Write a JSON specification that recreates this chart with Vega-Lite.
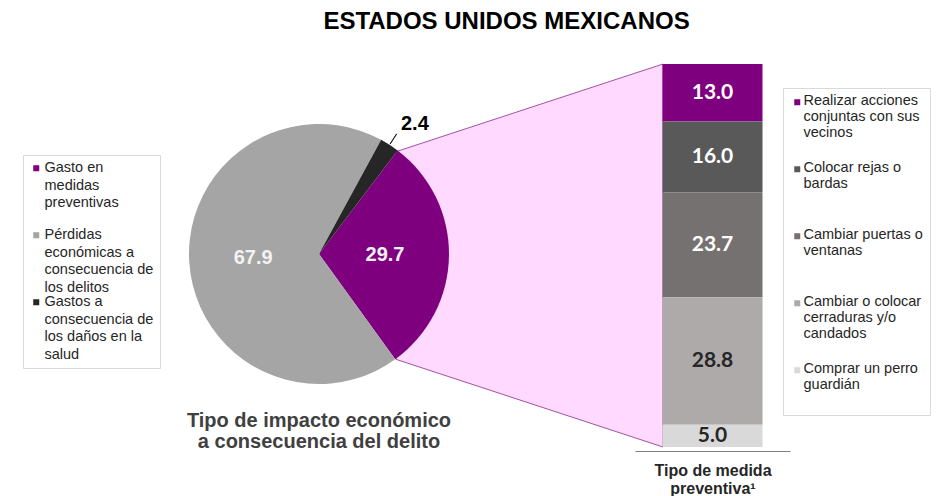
{
  "$schema": "https://vega.github.io/schema/vega-lite/v6.json",
  "width": 951,
  "height": 451,
  "autosize": "none",
  "padding": {"left": 0, "top": 0, "right": 0, "bottom": 45},
  "background": "white",
  "config": {"view": {"stroke": null}, "font": "Liberation Sans"},
  "title": {
    "text": "ESTADOS UNIDOS MEXICANOS",
    "font": "Liberation Sans",
    "fontSize": 24,
    "fontWeight": "bold",
    "color": "#000000",
    "anchor": "middle",
    "frame": "group",
    "dx": 31,
    "offset": -34
  },
  "datasets": {
    "impacto": [
      {"grafica": "Tipo de impacto económico\na consecuencia del delito", "tipo": "Gasto en medidas preventivas", "valor": 29.7, "orden": 1},
      {"grafica": "Tipo de impacto económico\na consecuencia del delito", "tipo": "Pérdidas económicas a consecuencia de los delitos", "valor": 67.9, "orden": 2},
      {"grafica": "Tipo de impacto económico\na consecuencia del delito", "tipo": "Gastos a consecuencia de los daños en la salud", "valor": 2.4, "orden": 3}
    ],
    "medidas": [
      {"grafica": "Tipo de medida preventiva¹", "medida": "Realizar acciones conjuntas con sus vecinos", "valor": 13.0, "orden": 5},
      {"grafica": "Tipo de medida preventiva¹", "medida": "Colocar rejas o bardas", "valor": 16.0, "orden": 4},
      {"grafica": "Tipo de medida preventiva¹", "medida": "Cambiar puertas o ventanas", "valor": 23.7, "orden": 3},
      {"grafica": "Tipo de medida preventiva¹", "medida": "Cambiar o colocar cerraduras y/o candados", "valor": 28.8, "orden": 2},
      {"grafica": "Tipo de medida preventiva¹", "medida": "Comprar un perro guardián", "valor": 5.0, "orden": 1}
    ],
    "conector": [
      {"extremo": "Gasto en medidas preventivas", "sup": 66.7, "inf": 19.8},
      {"extremo": "Tipo de medida preventiva¹", "sup": 86.5, "inf": 0}
    ]
  },
  "resolve": {
    "scale": {"x": "independent", "y": "independent", "color": "independent"},
    "axis": {"x": "independent", "y": "independent"},
    "legend": {"color": "independent"}
  },
  "layer": [
    {
      "data": {"name": "conector"},
      "mark": {"type": "area", "fill": "#ffd9ff", "stroke": "#a052a0", "strokeWidth": 1, "opacity": 1},
      "encoding": {
        "x": {"field": "extremo", "type": "nominal", "sort": null, "scale": {"type": "point", "range": [396, 663], "padding": 0}, "axis": null},
        "y": {"field": "sup", "type": "quantitative", "scale": {"domain": [0, 86.5], "range": [447, 64], "nice": false}, "axis": null},
        "y2": {"field": "inf"}
      }
    },
    {
      "data": {"name": "impacto"},
      "encoding": {
        "x": {"field": "grafica", "type": "nominal", "scale": {"type": "point", "range": [0, 638]}, "axis": null},
        "y": {"field": "grafica", "type": "nominal", "scale": {"type": "point", "range": [0, 508]}, "axis": null}
      },
      "layer": [
        {
          "mark": {"type": "arc", "outerRadius": 130},
          "encoding": {
            "theta": {"field": "valor", "type": "quantitative", "stack": true, "scale": {"domain": [0, 100], "range": [0.6493, 6.9325]}},
            "order": {"field": "orden", "type": "quantitative"},
            "color": {
              "field": "tipo",
              "type": "nominal",
              "scale": {
                "domain": ["Gasto en medidas preventivas", "Pérdidas económicas a consecuencia de los delitos", "Gastos a consecuencia de los daños en la salud"],
                "range": ["#7f007f", "#a5a5a5", "#262626"]
              },
              "legend": {
                "orient": "none",
                "legendX": 23,
                "legendY": 155,
                "title": null,
                "padding": 6,
                "strokeColor": "#d9d9d9",
                "fillColor": "#ffffff",
                "symbolType": "square",
                "symbolSize": 36,
                "symbolStrokeWidth": 0,
                "labelFont": "Liberation Sans",
                "labelFontSize": 14.5,
                "labelColor": "#262626",
                "labelBaseline": "top",
                "labelOffset": 1,
                "labelLimit": 300,
                "rowPadding": -4,
                "labelExpr": "datum.label == 'Gasto en medidas preventivas' ? ['Gasto en','medidas','preventivas',''] : datum.label == 'Pérdidas económicas a consecuencia de los delitos' ? ['Pérdidas','económicas a','consecuencia de','los delitos'] : ['Gastos a','consecuencia de','los daños en la','salud']",
                "encode": {"labels": {"update": {"dy": {"value": -7}, "lineHeight": {"value": 17.5}}}}
              }
            }
          }
        },
        {
          "mark": {"type": "arc", "innerRadius": 131, "outerRadius": 143, "padAngle": 0.143, "fill": "#000000", "stroke": "#000000", "strokeWidth": 0.8},
          "encoding": {
            "theta": {"field": "valor", "type": "quantitative", "stack": true, "scale": {"domain": [0, 100], "range": [0.6493, 6.9325]}},
            "order": {"field": "orden", "type": "quantitative"},
            "opacity": {"condition": {"test": "datum.valor < 10", "value": 1}, "value": 0}
          }
        },
        {
          "mark": {"type": "text", "radius": 66, "font": "Liberation Sans", "fontSize": 20, "fontWeight": "bold", "color": "#f2f2f2", "baseline": "middle"},
          "encoding": {
            "theta": {"field": "valor", "type": "quantitative", "stack": true, "scale": {"domain": [0, 100], "range": [0.6493, 6.9325]}},
            "order": {"field": "orden", "type": "quantitative"},
            "text": {"condition": {"test": "datum.valor < 10", "value": ""}, "field": "valor", "type": "quantitative", "format": ".1f"}
          }
        },
        {
          "mark": {"type": "text", "radius": 160, "dx": 9, "dy": 4, "font": "Liberation Sans", "fontSize": 20, "fontWeight": "bold", "color": "#000000", "baseline": "middle"},
          "encoding": {
            "theta": {"field": "valor", "type": "quantitative", "stack": true, "scale": {"domain": [0, 100], "range": [0.6493, 6.9325]}},
            "order": {"field": "orden", "type": "quantitative"},
            "text": {"condition": {"test": "datum.valor >= 10", "value": ""}, "field": "valor", "type": "quantitative", "format": ".1f"}
          }
        },
        {
          "transform": [{"filter": "datum.orden == 1"}],
          "mark": {"type": "text", "lineBreak": "\n", "dy": 173, "baseline": "alphabetic", "align": "center", "font": "Liberation Sans", "fontSize": 20, "fontWeight": "bold", "color": "#404040", "lineHeight": 21},
          "encoding": {"text": {"field": "grafica", "type": "nominal"}}
        }
      ]
    },
    {
      "data": {"name": "medidas"},
      "encoding": {
        "x": {
          "field": "grafica",
          "type": "nominal",
          "scale": {"type": "band", "range": [635, 790], "paddingInner": 0, "paddingOuter": 0.275},
          "axis": {
            "orient": "bottom",
            "title": ["Tipo de medida", "preventiva¹"],
            "labels": false,
            "ticks": false,
            "domainColor": "#808080",
            "domainWidth": 1,
            "titleFont": "Liberation Sans",
            "titleFontSize": 16,
            "titleFontWeight": "bold",
            "titleColor": "#262626",
            "titlePadding": 11,
            "titleLineHeight": 18
          }
        },
        "y": {"field": "valor", "type": "quantitative", "stack": "zero", "scale": {"domain": [0, 86.5], "range": [447, 64], "nice": false}, "axis": null},
        "order": {"field": "orden", "type": "quantitative"}
      },
      "layer": [
        {
          "mark": {"type": "bar"},
          "encoding": {
            "color": {
              "field": "medida",
              "type": "nominal",
              "scale": {
                "domain": ["Realizar acciones conjuntas con sus vecinos", "Colocar rejas o bardas", "Cambiar puertas o ventanas", "Cambiar o colocar cerraduras y/o candados", "Comprar un perro guardián"],
                "range": ["#7f007f", "#595959", "#767171", "#aeaaaa", "#d9d9d9"]
              },
              "legend": {
                "orient": "none",
                "legendX": 783,
                "legendY": 88,
                "title": null,
                "padding": 7,
                "strokeColor": "#d9d9d9",
                "fillColor": "#ffffff",
                "symbolType": "square",
                "symbolSize": 36,
                "symbolStrokeWidth": 0,
                "labelFont": "Liberation Sans",
                "labelFontSize": 14.5,
                "labelColor": "#262626",
                "labelBaseline": "top",
                "labelOffset": -1,
                "labelLimit": 300,
                "rowPadding": 4,
                "labelExpr": "datum.label == 'Realizar acciones conjuntas con sus vecinos' ? ['Realizar acciones','conjuntas con sus','vecinos',''] : datum.label == 'Colocar rejas o bardas' ? ['Colocar rejas o','bardas','',''] : datum.label == 'Cambiar puertas o ventanas' ? ['Cambiar puertas o','ventanas','',''] : datum.label == 'Cambiar o colocar cerraduras y/o candados' ? ['Cambiar o colocar','cerraduras y/o','candados',''] : ['Comprar un perro','guardián','']",
                "encode": {"labels": {"update": {"dy": {"value": -8}, "lineHeight": {"value": 16}}}}
              }
            }
          }
        },
        {
          "mark": {"type": "text", "font": "Lato", "fontSize": 21, "fontWeight": "bold", "baseline": "middle", "dy": {"expr": "datum.valor * 2.214"}},
          "encoding": {
            "text": {"field": "valor", "type": "quantitative", "format": ".1f"},
            "color": {"condition": {"test": "datum.orden <= 2", "value": "#262626"}, "value": "#ffffff"}
          }
        }
      ]
    }
  ]
}
